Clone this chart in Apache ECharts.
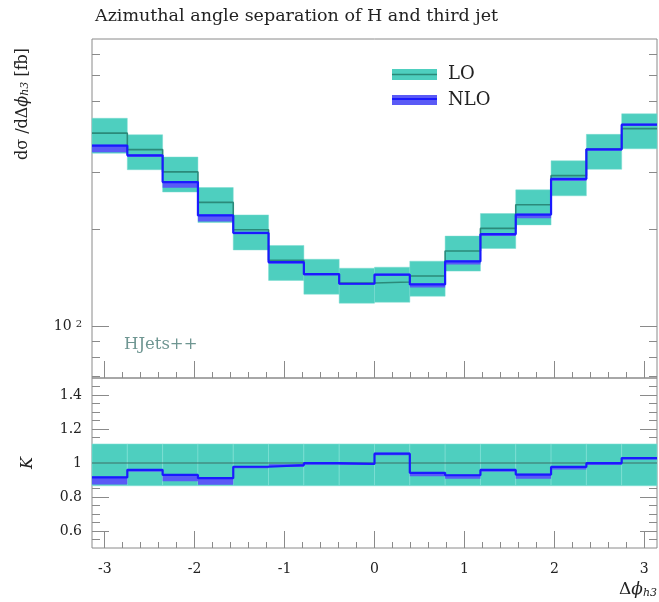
<!DOCTYPE html>
<html>
<head>
<meta charset="utf-8">
<script src="https://cdn.jsdelivr.net/npm/echarts@6/dist/echarts.min.js"></script>
<style>
  html, body { margin: 0; padding: 0; background: #fff; }
  #chart { width: 659px; height: 602px; }
</style>
</head>
<body>
<div id="chart"></div>
<script>
// Δφ(H, j3) binning: 16 bins of width π/8
const binEdges = [-3.1416, -2.7489, -2.3562, -1.9635, -1.5708, -1.1781, -0.7854, -0.3927, 0,
                  0.3927, 0.7854, 1.1781, 1.5708, 1.9635, 2.3562, 2.7489, 3.1416];

// dσ/dΔφ [fb], LO with scale-variation band
const loCentral = [397, 353, 301, 242, 199, 160, 145, 136, 137, 143, 171, 201, 238, 293, 354, 410];
const loUpper   = [441.5, 392.5, 334.7, 269.1, 221.3, 177.9, 161.2, 151.2, 152.3, 159.0, 190.2, 223.5, 264.7, 325.8, 393.6, 455.9];
const loLower   = [343.8, 305.7, 260.7, 209.6, 172.3, 138.6, 125.6, 117.8, 118.6, 123.8, 148.1, 174.1, 206.1, 253.7, 306.6, 355.1];

// dσ/dΔφ [fb], NLO with scale-variation band
const nloCentral = [363.3, 338.9, 279.9, 220.5, 194.6, 157.9, 144.9, 135.3, 144.5, 134.7, 158.7, 192.8, 221.8, 286.3, 353.6, 421.9];
const nloUpper   = [365.5, 341.0, 281.6, 221.8, 195.8, 158.9, 145.8, 136.1, 145.4, 135.5, 159.7, 194.0, 223.1, 288.0, 355.7, 424.4];
const nloLower   = [346.6, 334.6, 268.8, 211.0, 192.8, 156.2, 143.6, 134.4, 143.3, 131.8, 155.3, 190.5, 216.1, 281.9, 349.8, 418.2];

// K-factor panel (ratio to LO central)
const kLoCentral = [1, 1, 1, 1, 1, 1, 1, 1, 1, 1, 1, 1, 1, 1, 1, 1];
const kLoUpper   = [1.112, 1.112, 1.112, 1.112, 1.112, 1.112, 1.112, 1.112, 1.112, 1.112, 1.112, 1.112, 1.112, 1.112, 1.112, 1.112];
const kLoLower   = [0.866, 0.866, 0.866, 0.866, 0.866, 0.866, 0.866, 0.866, 0.866, 0.866, 0.866, 0.866, 0.866, 0.866, 0.866, 0.866];
const kNlo       = [0.915, 0.960, 0.930, 0.911, 0.978, 0.987, 0.999, 0.995, 1.055, 0.942, 0.928, 0.959, 0.932, 0.977, 0.999, 1.029];
const kNloUpper  = [0.920, 0.965, 0.935, 0.916, 0.983, 0.992, 1.004, 1.000, 1.060, 0.947, 0.933, 0.964, 0.937, 0.982, 1.004, 1.034];
const kNloLower  = [0.873, 0.948, 0.893, 0.872, 0.969, 0.976, 0.990, 0.988, 1.046, 0.922, 0.908, 0.948, 0.908, 0.962, 0.988, 1.020];

// Tick positions
const xMajorTicks = [-3, -2, -1, 0, 1, 2, 3];
const xMinorTicks = [];
for (let i = 0; i <= 30; i++) xMinorTicks.push(Math.round((-3 + 0.2 * i) * 10) / 10);
const yLogMajorTicks = [100];
const yLogMinorTicks = [70, 80, 90, 200, 300, 400, 500, 600, 700];
const kMajorTicks = [0.6, 0.8, 1, 1.2, 1.4];
const kMinorTicks = [];
for (let i = 1; i < 20; i++) kMinorTicks.push(Math.round((0.5 + 0.05 * i) * 100) / 100);

const FONT = 'DejaVu Serif';
const TEXT = '#222';
const FRAME = '#8a8a8a';
const LO_FILL = '#4ecfbf';
const LO_LINE = '#2b8a7a';
const NLO_FILL = '#5a5af6';
const NLO_LINE = '#1a1aff';

function bandData(lower, upper) {
  return binEdges.slice(0, -1).map((e, i) => [e, binEdges[i + 1], lower[i], upper[i]]);
}
function stepData(vals) {
  return binEdges.map((e, i) => [e, vals[Math.min(i, vals.length - 1)]]);
}
function bandSeries(name, xi, yi, data, fill, stroke) {
  return {
    name, type: 'custom', xAxisIndex: xi, yAxisIndex: yi,
    encode: { x: [0, 1], y: [2, 3] },
    data,
    renderItem: function (params, api) {
      const p0 = api.coord([api.value(0), api.value(3)]);
      const p1 = api.coord([api.value(1), api.value(2)]);
      return {
        type: 'rect',
        shape: { x: p0[0], y: p0[1], width: p1[0] - p0[0], height: p1[1] - p0[1] },
        style: { fill: fill, stroke: stroke, lineWidth: stroke ? 0.8 : 0 }
      };
    }
  };
}
function stepSeries(name, xi, yi, vals, color, width) {
  return {
    name, type: 'line', xAxisIndex: xi, yAxisIndex: yi, step: 'end',
    showSymbol: false, symbol: 'none', data: stepData(vals),
    lineStyle: { color: color, width: width }, itemStyle: { color: color }
  };
}

function xAxisDef(grid, ticks, len, labels) {
  return {
    type: 'value', gridIndex: grid, position: 'bottom', min: -Math.PI, max: Math.PI,
    axisLine: { show: false, onZero: false },
    splitLine: { show: false },
    axisTick: { show: true, inside: true, length: len, customValues: ticks, lineStyle: { color: FRAME } },
    axisLabel: labels ? { show: true, customValues: xMajorTicks, margin: 14, fontFamily: FONT, fontSize: 14, color: TEXT }
                      : { show: false }
  };
}
function yAxisDef(grid, type, min, max, pos, ticks, len, label) {
  return {
    type: type, gridIndex: grid, position: pos, min: min, max: max,
    axisLine: { show: false, onZero: false },
    splitLine: { show: false },
    axisTick: { show: true, inside: true, length: len, customValues: ticks, lineStyle: { color: FRAME } },
    axisLabel: label || { show: false }
  };
}

const chart = echarts.init(document.getElementById('chart'), null, { renderer: 'canvas' });

const option = {
  animation: false,
  backgroundColor: '#fff',
  grid: [
    { left: 92, top: 39, width: 565, height: 339, show: true, borderColor: FRAME, borderWidth: 1, outerBoundsMode: 'none' },
    { left: 92, top: 378, width: 565, height: 170, show: true, borderColor: FRAME, borderWidth: 1, outerBoundsMode: 'none' }
  ],
  xAxis: [
    xAxisDef(0, xMajorTicks, 17, false),
    xAxisDef(0, xMinorTicks, 6, false),
    xAxisDef(1, xMajorTicks, 17, true),
    xAxisDef(1, xMinorTicks, 6, false)
  ],
  yAxis: [
    yAxisDef(0, 'log', 69, 778, 'left', yLogMajorTicks, 17, {
      show: true, customValues: yLogMajorTicks, margin: 10,
      formatter: () => '{b|10}{s|2}',
      rich: {
        b: { fontFamily: FONT, fontSize: 14, color: TEXT },
        s: { fontFamily: FONT, fontSize: 10, color: TEXT, verticalAlign: 'top', padding: [0, 0, 0, 4] }
      }
    }),
    yAxisDef(0, 'log', 69, 778, 'left', yLogMinorTicks, 8),
    yAxisDef(0, 'log', 69, 778, 'right', yLogMajorTicks, 17),
    yAxisDef(0, 'log', 69, 778, 'right', yLogMinorTicks, 8),
    yAxisDef(1, 'value', 0.5, 1.5, 'left', kMajorTicks, 17, {
      show: true, customValues: kMajorTicks, margin: 10,
      fontFamily: FONT, fontSize: 14, color: TEXT, formatter: v => String(v)
    }),
    yAxisDef(1, 'value', 0.5, 1.5, 'left', kMinorTicks, 8),
    yAxisDef(1, 'value', 0.5, 1.5, 'right', kMajorTicks, 17),
    yAxisDef(1, 'value', 0.5, 1.5, 'right', kMinorTicks, 8)
  ],
  series: [
    bandSeries('LO band', 0, 0, bandData(loLower, loUpper), LO_FILL, 'rgba(120,220,208,0.6)'),
    stepSeries('LO', 0, 0, loCentral, LO_LINE, 1.6),
    bandSeries('NLO band', 0, 0, bandData(nloLower, nloUpper), NLO_FILL, null),
    stepSeries('NLO', 0, 0, nloCentral, NLO_LINE, 2.2),

    bandSeries('LO ratio band', 2, 4, bandData(kLoLower, kLoUpper), LO_FILL, 'rgba(130,225,214,0.7)'),
    stepSeries('LO ratio', 2, 4, kLoCentral, '#3d6f67', 1.2),
    bandSeries('NLO ratio band', 2, 4, bandData(kNloLower, kNloUpper), NLO_FILL, null),
    stepSeries('NLO ratio', 2, 4, kNlo, NLO_LINE, 2.2)
  ],
  graphic: [
    {
      type: 'text', x: 95, y: 16.5,
      style: { text: 'Azimuthal angle separation of H and third jet', font: '17.5px "DejaVu Serif"',
               fill: TEXT, textAlign: 'left', textVerticalAlign: 'middle' }
    },
    {
      type: 'text', x: 23, y: 104, rotation: Math.PI / 2,
      style: {
        text: '{m|dσ /dΔ}{i|ϕ}{s|h3}{m| [fb]}',
        textAlign: 'center', textVerticalAlign: 'middle',
        rich: {
          m: { fontFamily: FONT, fontSize: 16, fill: TEXT, color: TEXT },
          i: { fontFamily: FONT, fontSize: 16, fontStyle: 'italic', fill: TEXT, color: TEXT },
          s: { fontFamily: FONT, fontSize: 11, fontStyle: 'italic', fill: TEXT, color: TEXT, verticalAlign: 'bottom' }
        }
      }
    },
    {
      type: 'text', x: 28, y: 463, rotation: Math.PI / 2,
      style: { text: 'K', font: 'italic 16px "DejaVu Serif"', fill: TEXT, textAlign: 'center', textVerticalAlign: 'middle' }
    },
    {
      type: 'text', x: 657, y: 590,
      style: {
        text: '{m|Δ}{i|ϕ}{s|h3}',
        textAlign: 'right', textVerticalAlign: 'middle',
        rich: {
          m: { fontFamily: FONT, fontSize: 17, fill: TEXT, color: TEXT },
          i: { fontFamily: FONT, fontSize: 17, fontStyle: 'italic', fill: TEXT, color: TEXT },
          s: { fontFamily: FONT, fontSize: 11, fontStyle: 'italic', fill: TEXT, color: TEXT, verticalAlign: 'bottom' }
        }
      }
    },
    {
      type: 'text', x: 124, y: 345,
      style: { text: 'HJets++', font: '16.5px "DejaVu Serif"', fill: '#6f9692', textAlign: 'left', textVerticalAlign: 'middle' }
    },
    // legend
    { type: 'rect', shape: { x: 392, y: 69, width: 45, height: 11 }, style: { fill: LO_FILL } },
    { type: 'line', shape: { x1: 392, y1: 74.5, x2: 437, y2: 74.5 }, style: { stroke: LO_LINE, lineWidth: 1.6 } },
    { type: 'text', x: 448, y: 74.5,
      style: { text: 'LO', font: '18px "DejaVu Serif"', fill: TEXT, textAlign: 'left', textVerticalAlign: 'middle' } },
    { type: 'rect', shape: { x: 392, y: 95, width: 45, height: 10 }, style: { fill: NLO_FILL } },
    { type: 'line', shape: { x1: 392, y1: 99, x2: 437, y2: 99 }, style: { stroke: NLO_LINE, lineWidth: 2.2 } },
    { type: 'text', x: 448, y: 100,
      style: { text: 'NLO', font: '18px "DejaVu Serif"', fill: TEXT, textAlign: 'left', textVerticalAlign: 'middle' } }
  ]
};

chart.setOption(option);
</script>
</body>
</html>
